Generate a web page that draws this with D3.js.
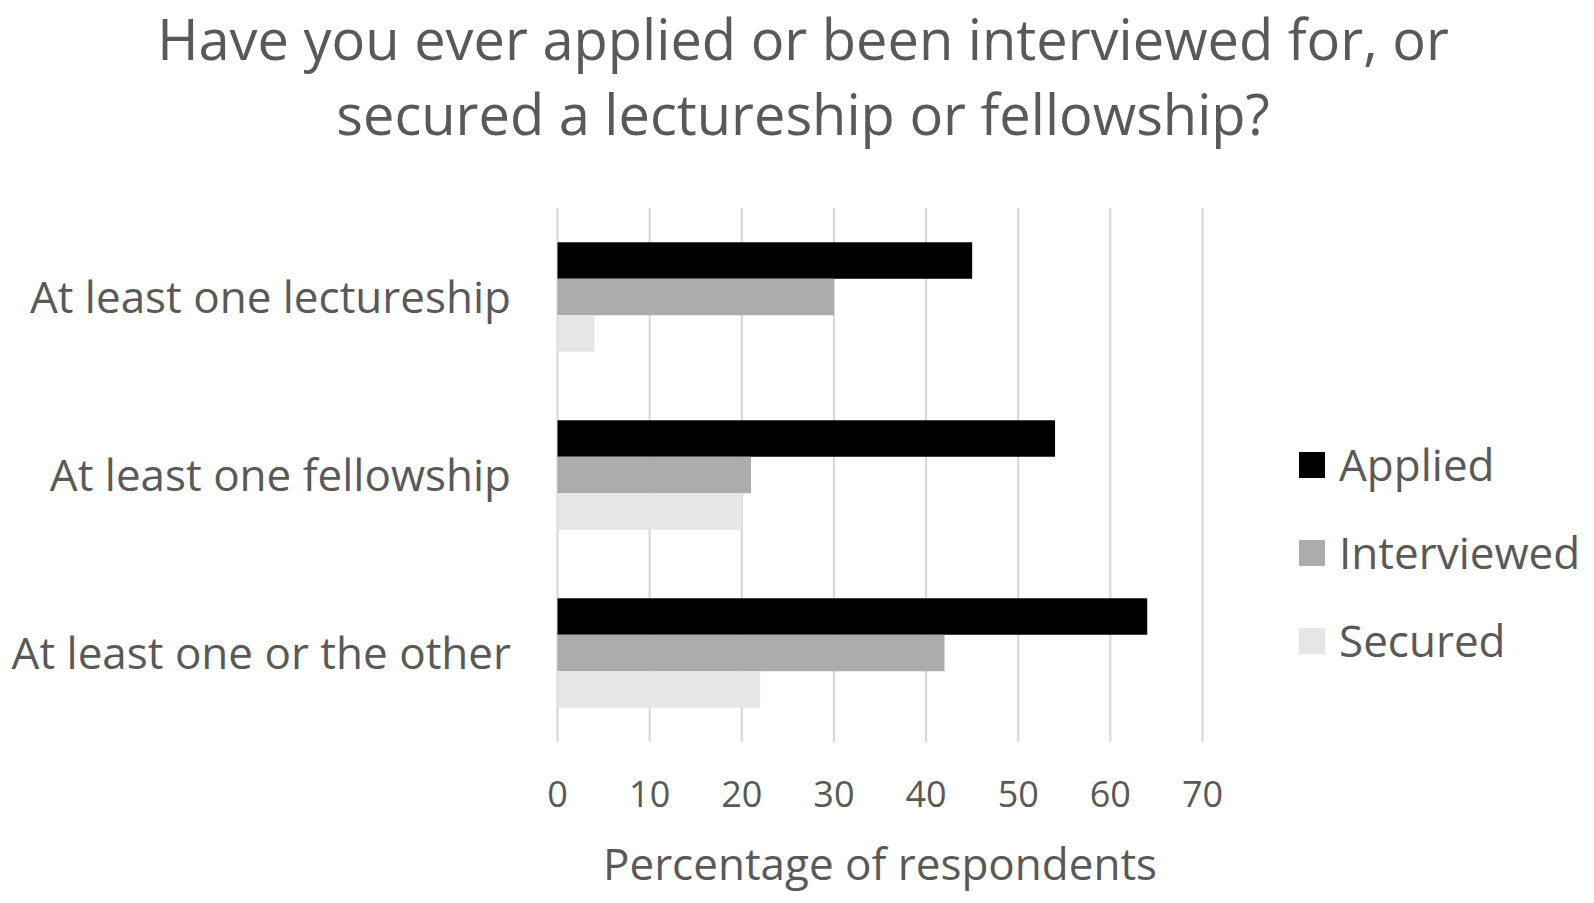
<!DOCTYPE html>
<html>
<head>
<meta charset="utf-8">
<script src="https://cdn.jsdelivr.net/npm/d3@7"></script>
<style>
  html, body { margin: 0; padding: 0; background: #ffffff; }
  svg { display: block; }
  text { font-family: "Open Sans", "Noto Sans", sans-serif; fill: #595959; }
</style>
</head>
<body>
<svg id="chart" width="1594" height="903"></svg>
<script>
// ---- data ----
const categories = ["At least one lectureship", "At least one fellowship", "At least one or the other"];
const seriesNames = ["Applied", "Interviewed", "Secured"];
const applied     = [45, 54, 64];
const interviewed = [30, 21, 42];
const secured     = [4, 20, 22];
const xTicks = [0, 10, 20, 30, 40, 50, 60, 70];
const titleLines = ["Have you ever applied or been interviewed for, or", "secured a lectureship or fellowship?"];
const xAxisTitle = "Percentage of respondents";

const seriesValues = [applied, interviewed, secured];
const colors = ["#000000", "#aeabab", "#e6e6e6"];

const svg = d3.select("#chart");

const x = d3.scaleLinear().domain([0, 70]).range([557.5, 1202.5]);
const y0 = d3.scaleBand().domain(categories).range([208, 742]).paddingInner(0.385).paddingOuter(0.1925);
const y1 = d3.scaleBand().domain(seriesNames).range([0, y0.bandwidth()]);

// title
svg.append("g").selectAll("text").data(titleLines).join("text")
  .attr("x", 803).attr("y", (d, i) => 60 + i * 75)
  .attr("text-anchor", "middle")
  .style("font-size", "56px")
  .text(d => d);

// gridlines
svg.append("g").selectAll("line").data(xTicks).join("line")
  .attr("x1", d => x(d)).attr("x2", d => x(d))
  .attr("y1", 208).attr("y2", 742)
  .attr("stroke", "#d9d9d9").attr("stroke-width", 2.2);

// bars
const groups = svg.append("g").selectAll("g").data(categories).join("g")
  .attr("transform", c => `translate(0,${y0(c)})`);
groups.selectAll("rect")
  .data((c, ci) => seriesNames.map((s, si) => ({ s, v: seriesValues[si][ci], si })))
  .join("rect")
  .attr("x", x(0))
  .attr("y", d => y1(d.s))
  .attr("width", d => x(d.v) - x(0))
  .attr("height", y1.bandwidth())
  .attr("fill", d => colors[d.si]);

// x tick labels
svg.append("g").selectAll("text").data(xTicks).join("text")
  .attr("x", d => x(d)).attr("y", 807)
  .attr("text-anchor", "middle")
  .style("font-size", "36px")
  .text(d => d);

// category labels
svg.append("g").selectAll("text").data(categories).join("text")
  .attr("x", 511).attr("y", c => y0(c) + y0.bandwidth() / 2 + 16)
  .attr("text-anchor", "end")
  .style("font-size", "44px")
  .text(c => c);

// axis title
svg.append("text")
  .attr("x", 880).attr("y", 880)
  .attr("text-anchor", "middle")
  .style("font-size", "44px")
  .text(xAxisTitle);

// legend
const leg = svg.append("g").selectAll("g").data(seriesNames).join("g")
  .attr("transform", (d, i) => `translate(1299,${465 + i * 88})`);
leg.append("rect").attr("x", 0).attr("y", -13).attr("width", 26).attr("height", 26)
  .attr("fill", (d, i) => colors[i]);
leg.append("text").attr("x", 40).attr("y", 16)
  .style("font-size", "44px")
  .text(d => d);
</script>
</body>
</html>
